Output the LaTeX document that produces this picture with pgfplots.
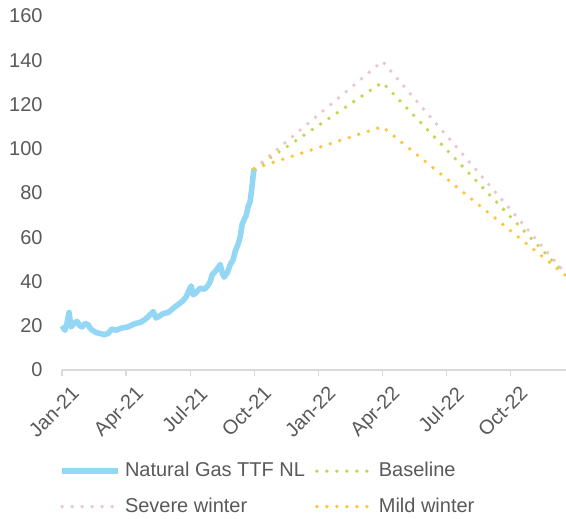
\documentclass[border=0pt]{standalone}
\usepackage{fontspec}
\setmainfont{Liberation Sans}
\usepackage{pgfplots}
\pgfplotsset{compat=1.18}
\definecolor{gas}{RGB}{147,215,245}
\definecolor{base}{RGB}{194,215,80}
\definecolor{severe}{RGB}{236,196,209}
\definecolor{mild}{RGB}{253,198,55}
\definecolor{axgray}{RGB}{217,217,217}
\definecolor{txt}{RGB}{89,89,89}
\begin{document}
\begin{tikzpicture}
\begin{axis}[
  at={(0,0)}, anchor=south west,
  scale only axis, width=252pt, height=177pt,
  xmin=0, xmax=23.6, ymin=0, ymax=160,
  xtick={0,3,...,21},
  xticklabels={Jan-21,Apr-21,Jul-21,Oct-21,Jan-22,Apr-22,Jul-22,Oct-22},
  ytick={0,20,...,160},
  axis x line*=bottom, axis y line*=left,
  y axis line style={draw=none},
  x axis line style={draw=axgray, line width=0.6pt},
  ytick style={draw=none},
  xtick style={draw=axgray, line width=0.6pt},
  tick align=outside, major tick length=3pt,
  /pgf/number format/assume math mode=true,
  tick label style={font=\fontsize{10}{12}\selectfont, text=txt},
  xticklabel style={rotate=45, anchor=north east, inner sep=1pt, yshift=-5pt, xshift=1pt},
  yticklabel style={inner sep=0pt, xshift=-6.5pt},
  clip=false,
  legend columns=2,
  legend cell align=left,
  legend image code/.code={\draw[#1] (0pt,0pt) -- (28pt,0pt);},
  legend style={draw=none, fill=none, inner sep=0pt, font=\fontsize{10}{12}\selectfont, text=txt,
    at={(axis description cs:0,0)}, anchor=north west, yshift=-44pt, xshift=-1.5pt,
    row sep=5pt,
    /tikz/every even column/.append style={column sep=3pt}},
  dotstyle/.style={line width=1.9pt, line cap=round, dash pattern=on 0pt off 5pt},
]
\addplot[gas, line width=2.8pt, line join=round] coordinates {
(0,20) (0.14,18) (0.23,21) (0.33,26) (0.42,19.5) (0.56,21) (0.70,22) (0.84,20)
(0.94,19.5) (1.08,21) (1.22,20.5) (1.31,19) (1.41,18) (1.59,17) (1.78,16.5)
(1.97,16) (2.16,16.5) (2.34,18.5) (2.53,18) (2.81,19) (3.09,19.5) (3.42,21)
(3.66,21.5) (3.84,22.5) (4.03,24) (4.27,26.4) (4.41,23.5) (4.50,24) (4.74,25.5)
(4.97,26) (5.16,27.5) (5.30,28.6) (5.49,30) (5.63,31) (5.81,33) (5.95,36)
(6.05,38) (6.14,34) (6.28,35) (6.47,37) (6.66,36.5) (6.80,37.7) (6.94,40)
(7.03,43) (7.22,45) (7.41,47.7) (7.50,44) (7.59,42) (7.74,44) (7.88,47.7)
(8.02,50) (8.11,53.6) (8.25,57) (8.34,60) (8.44,66) (8.53,68) (8.63,70)
(8.72,74) (8.81,76) (8.86,80) (8.91,84) (8.95,88) (9.0,91)
};
\addlegendentry{Natural Gas TTF NL}
\addplot[base, dotstyle] coordinates {(9,91) (15,130) (23.55,43.5)};
\addlegendentry{Baseline}
\addplot[severe, dotstyle] coordinates {(9,91) (15,139.5) (23.55,44)};
\addlegendentry{Severe winter}
\addplot[mild, dotstyle] coordinates {(9,91) (15,110) (23.55,43)};
\addlegendentry{Mild winter}
\end{axis}
\pgfresetboundingbox
\path[use as bounding box] (-31pt,-74pt) rectangle (252pt,185pt);
\end{tikzpicture}
\end{document}
